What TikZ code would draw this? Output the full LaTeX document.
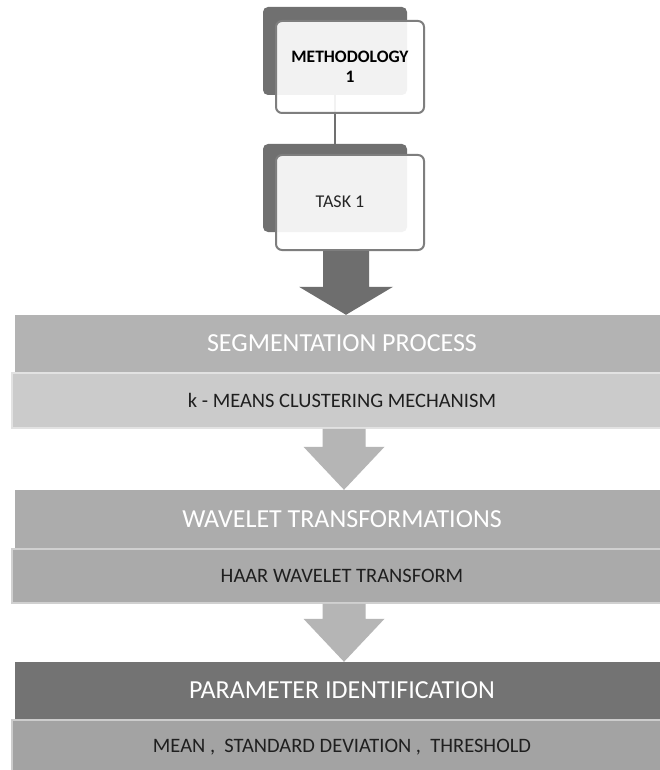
\documentclass[tikz,border=0pt]{standalone}
\usepackage{fontspec}
\setmainfont{Carlito}
\usetikzlibrary{calc}

\definecolor{backdark}{HTML}{707070}
\definecolor{frameline}{HTML}{7E7E7E}
\definecolor{flowgrey}{HTML}{B5B5B5}
\definecolor{taskgrey}{HTML}{6E6E6E}
\definecolor{segmain}{HTML}{B3B3B3}
\definecolor{segsubc}{HTML}{CBCBCB}
\definecolor{wavmain}{HTML}{ACACAC}
\definecolor{wavsubc}{HTML}{AAAAAA}
\definecolor{parmain}{HTML}{737373}
\definecolor{parsubc}{HTML}{A3A3A3}

% block arrow: style, start (top of shaft), tip, shaft half width, head half width, head length
\newcommand{\blockarrow}[6]{%
  \path[#1] let \p1=(#2), \p2=(#3) in
    (\x1-#4pt,\y1) -- (\x1+#4pt,\y1) -- (\x1+#4pt,\y2+#6pt) -- (\x1+#5pt,\y2+#6pt)
    -- (\x1,\y2) -- (\x1-#5pt,\y2+#6pt) -- (\x1-#4pt,\y2+#6pt) -- cycle;}

\begin{document}
\begin{tikzpicture}[x=1pt,y=-1pt,
  backcard/.style={fill=backdark, rounded corners=5pt, minimum width=144pt,
    minimum height=88pt, inner sep=0pt},
  frontcard/.style={draw=frameline, line width=2pt, fill=white, fill opacity=0.91,
    text opacity=1, rounded corners=6pt, minimum width=148pt, inner sep=0pt,
    align=center},
  conn/.style={draw=backdark, line width=2pt},
  band/.style={inner sep=0pt, minimum width=654pt, minimum height=57pt,
    font=\fontsize{26}{30}\selectfont, text=white},
  subband/.style={inner sep=0pt, minimum width=660pt, minimum height=55pt,
    line width=1.5pt, font=\fontsize{20.5}{24}\selectfont, text=black!88},
  cardtext/.style={inner sep=0pt, align=center, text=black!85}
]
\useasboundingbox (0,0) rectangle (660,770);
\fill[white] (0,0) rectangle (660,770);
\clip (0,0) rectangle (660,770);

% stacked cards at the top
\node[backcard] (methback) at (335,51) {};
\node[backcard] (taskback) at (335,188) {};
\draw[conn] (taskback.north) -- (taskback.north |- methback.south);
\node[frontcard, minimum height=92pt,
  font=\bfseries\fontsize{17.5}{19.5}\selectfont] (meth) at (350,67)
  {METHODOLOGY\\1};
\node[frontcard, minimum height=95pt] (task) at (350,202.5) {};
\node[cardtext, font=\fontsize{18}{20}\selectfont] (tasklabel) at (340,202) {TASK 1};

% process bands
\node[band, fill=segmain] (seg) at (342,343.5) {SEGMENTATION PROCESS};
\node[subband, fill=segsubc, draw=segsubc!55!white] (segsub) at (342,400.5)
  {k - MEANS CLUSTERING MECHANISM};
\node[band, fill=wavmain, minimum height=58pt] (wav) at (342,519) {WAVELET TRANSFORMATIONS};
\node[subband, fill=wavsubc, draw=wavsubc!55!white, minimum height=54pt] (wavsub) at (342,576)
  {HAAR WAVELET TRANSFORM};
\node[band, fill=parmain] (par) at (342,690.5) {PARAMETER IDENTIFICATION};
\node[subband, fill=parsubc, draw=parsubc!55!white, minimum height=54pt] (parsub) at (342,747)
  {MEAN ,\ \ STANDARD DEVIATION ,\ \ THRESHOLD};

% arrows between the stages
\coordinate (dstart) at ($(task.south)+(-4,0)$);
\coordinate (dtip) at (dstart |- seg.north);
\blockarrow{fill=taskgrey}{dstart}{dtip}{23}{47}{28}

\coordinate (f1start) at ($(segsub.south)+(2,0)$);
\coordinate (f1tip) at (f1start |- wav.north);
\blockarrow{fill=flowgrey}{f1start}{f1tip}{21.5}{40.5}{43}

\coordinate (f2start) at ($(wavsub.south)+(2,0)$);
\coordinate (f2tip) at (f2start |- par.north);
\blockarrow{fill=flowgrey}{f2start}{f2tip}{21.5}{40.5}{43}
\end{tikzpicture}
\end{document}
